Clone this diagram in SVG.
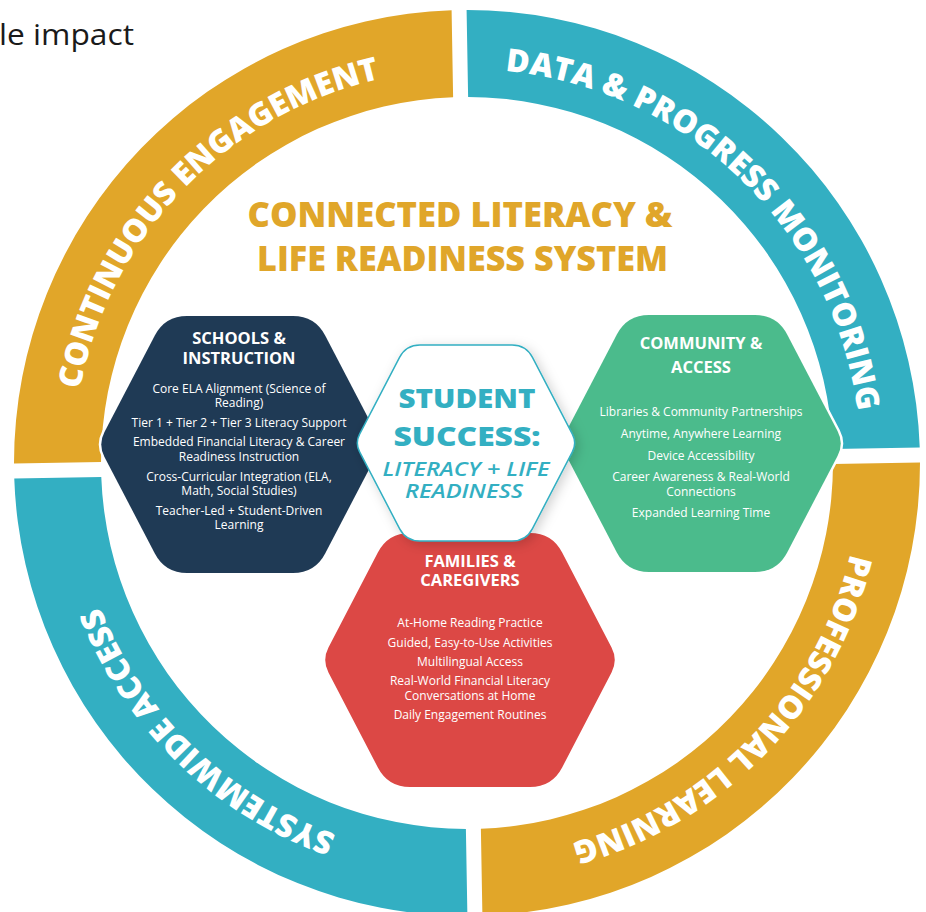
<svg xmlns="http://www.w3.org/2000/svg" width="926" height="912" viewBox="0 0 926 912">
<defs>
<style>
.ring-label{font-family:"Open Sans","Liberation Sans",sans-serif;font-weight:800;font-size:32px;fill:#ffffff}
.title{font-family:"Open Sans","Liberation Sans",sans-serif;font-weight:800;font-size:35px;fill:#E0A62A;text-anchor:middle}
.hd{font-family:"Open Sans","Liberation Sans",sans-serif;font-weight:700;font-size:16.5px;fill:#ffffff;text-anchor:middle}
.bd{font-family:"Open Sans","Liberation Sans",sans-serif;font-weight:400;font-size:12px;fill:#ffffff;text-anchor:middle}
.ctr{font-family:"Open Sans","Liberation Sans",sans-serif;font-weight:800;font-size:26px;fill:#33AFC2;text-anchor:middle}
.ctr-it{font-family:"Open Sans","Liberation Sans",sans-serif;font-weight:600;font-style:italic;font-size:19px;fill:#33AFC2;text-anchor:middle}
.hex{stroke:#ffffff;stroke-width:5;paint-order:stroke}
</style>
<path id="arcTL" d="M -394 0 A 394 394 0 0 1 0 -394"/>
<path id="arcTR" d="M 0 -394 A 394 394 0 0 1 394 0"/>
<path id="arcBR" d="M 394 0 A 394 394 0 0 1 0 394"/>
<path id="arcBL" d="M 0 394 A 394 394 0 0 1 -394 0"/>
<path id="hexA" d="M -135.53 -12.41 L -85.17 -109 Q -75 -128.5 -53 -128.5 L 53 -128.5 Q 75 -128.5 85.17 -109 L 135.53 -12.41 Q 142 0 135.53 12.41 L 85.17 109 Q 75 128.5 53 128.5 L -53 128.5 Q -75 128.5 -85.17 109 L -135.53 12.41 Q -142 0 -135.53 -12.41 Z"/>
<filter id="shadow" x="-30%" y="-30%" width="160%" height="160%">
<feDropShadow dx="3" dy="3" stdDeviation="6" flood-color="#000000" flood-opacity="0.18"/>
</filter>
</defs>

<rect width="926" height="912" fill="#ffffff"/>

<text x="-1" y="45" font-family="'Open Sans','Liberation Sans',sans-serif" font-size="29" fill="#1a1a1a" textLength="135" lengthAdjust="spacingAndGlyphs">le impact</text>

<g id="ring" transform="translate(467 463) rotate(-1)">
  <g id="continuous-engagement">
    <path d="M -452.94 -7.5 A 453 453 0 0 1 -7.5 -452.94 L -7.5 -365.92 A 366 366 0 0 0 -365.92 -7.5 Z" fill="#E1A629"/>
    <text class="ring-label" text-anchor="middle"><textPath href="#arcTL" startOffset="50%">CONTINUOUS ENGAGEMENT</textPath></text>
  </g>
  <g id="data-progress-monitoring">
    <path d="M 7.5 -452.94 A 453 453 0 0 1 452.94 -7.5 L 365.92 -7.5 A 366 366 0 0 0 7.5 -365.92 Z" fill="#33AFC2"/>
    <text class="ring-label" text-anchor="middle"><textPath href="#arcTR" startOffset="50%">DATA &amp; PROGRESS MONITORING</textPath></text>
  </g>
  <g id="professional-learning">
    <path d="M 452.94 7.5 A 453 453 0 0 1 7.5 452.94 L 7.5 365.92 A 366 366 0 0 0 365.92 7.5 Z" fill="#E1A629"/>
    <text class="ring-label" text-anchor="middle"><textPath href="#arcBR" startOffset="50%">PROFESSIONAL LEARNING</textPath></text>
  </g>
  <g id="systemwide-access">
    <path d="M -7.5 452.94 A 453 453 0 0 1 -452.94 7.5 L -365.92 7.5 A 366 366 0 0 0 -7.5 365.92 Z" fill="#33AFC2"/>
    <text class="ring-label" text-anchor="middle"><textPath href="#arcBL" startOffset="50%">SYSTEMWIDE ACCESS</textPath></text>
  </g>
</g>

<g id="title">
  <text class="title" x="460" y="227" textLength="425" lengthAdjust="spacingAndGlyphs">CONNECTED LITERACY &amp;</text>
  <text class="title" x="462.5" y="271" textLength="411" lengthAdjust="spacingAndGlyphs">LIFE READINESS SYSTEM</text>
</g>

<g id="connectors"></g>

<g id="schools-instruction">
  <use href="#hexA" x="240" y="444.5" fill="#1F3A55" class="hex"/>
  <text class="hd" x="239" y="344">SCHOOLS &amp;</text>
  <text class="hd" x="239" y="364">INSTRUCTION</text>
  <text class="bd" x="239" y="393">Core ELA Alignment (Science of</text>
  <text class="bd" x="239" y="407">Reading)</text>
  <text class="bd" x="239" y="427">Tier 1 + Tier 2 + Tier 3 Literacy Support</text>
  <text class="bd" x="239" y="446">Embedded Financial Literacy &amp; Career</text>
  <text class="bd" x="239" y="461">Readiness Instruction</text>
  <text class="bd" x="239" y="481">Cross-Curricular Integration (ELA,</text>
  <text class="bd" x="239" y="495">Math, Social Studies)</text>
  <text class="bd" x="239" y="515">Teacher-Led + Student-Driven</text>
  <text class="bd" x="239" y="529">Learning</text>
</g>

<g id="community-access">
  <use href="#hexA" x="702" y="443.5" fill="#4BBB8C" class="hex"/>
  <text class="hd" x="701" y="349">COMMUNITY &amp;</text>
  <text class="hd" x="701" y="373">ACCESS</text>
  <text class="bd" x="701" y="416">Libraries &amp; Community Partnerships</text>
  <text class="bd" x="701" y="438">Anytime, Anywhere Learning</text>
  <text class="bd" x="701" y="460">Device Accessibility</text>
  <text class="bd" x="701" y="481">Career Awareness &amp; Real-World</text>
  <text class="bd" x="701" y="496">Connections</text>
  <text class="bd" x="701" y="517">Expanded Learning Time</text>
</g>

<g id="families-caregivers">
  <path transform="translate(470 660)" class="hex" fill="#DC4845" d="M -141.54 -12.43 L -92.15 -107.47 Q -82 -127 -60 -127 L 60 -127 Q 82 -127 92.15 -107.47 L 141.54 -12.43 Q 148 0 141.54 12.43 L 92.15 107.47 Q 82 127 60 127 L -60 127 Q -82 127 -92.15 107.47 L -141.54 12.43 Q -148 0 -141.54 -12.43 Z"/>
  <text class="hd" x="470" y="567">FAMILIES &amp;</text>
  <text class="hd" x="470" y="586">CAREGIVERS</text>
  <text class="bd" x="470" y="627">At-Home Reading Practice</text>
  <text class="bd" x="470" y="647">Guided, Easy-to-Use Activities</text>
  <text class="bd" x="470" y="666">Multilingual Access</text>
  <text class="bd" x="470" y="685">Real-World Financial Literacy</text>
  <text class="bd" x="470" y="700">Conversations at Home</text>
  <text class="bd" x="470" y="719">Daily Engagement Routines</text>
</g>

<g id="student-success">
  <path transform="translate(466 443)" fill="#ffffff" stroke="#33AFC2" stroke-width="1.5" filter="url(#shadow)" d="M -106.38 -8.87 L -66.46 -85.58 Q -60 -98 -46 -98 L 46 -98 Q 60 -98 66.46 -85.58 L 106.38 -8.87 Q 111 0 106.38 8.87 L 66.46 85.58 Q 60 98 46 98 L -46 98 Q -60 98 -66.46 85.58 L -106.38 8.87 Q -111 0 -106.38 -8.87 Z"/>
  <text class="ctr" x="467" y="408" textLength="137" lengthAdjust="spacingAndGlyphs">STUDENT</text>
  <text class="ctr" x="467" y="446" textLength="147" lengthAdjust="spacingAndGlyphs">SUCCESS:</text>
  <text class="ctr-it" x="466" y="476" textLength="167" lengthAdjust="spacingAndGlyphs">LITERACY + LIFE</text>
  <text class="ctr-it" x="464" y="498" textLength="118" lengthAdjust="spacingAndGlyphs">READINESS</text>
</g>
</svg>
